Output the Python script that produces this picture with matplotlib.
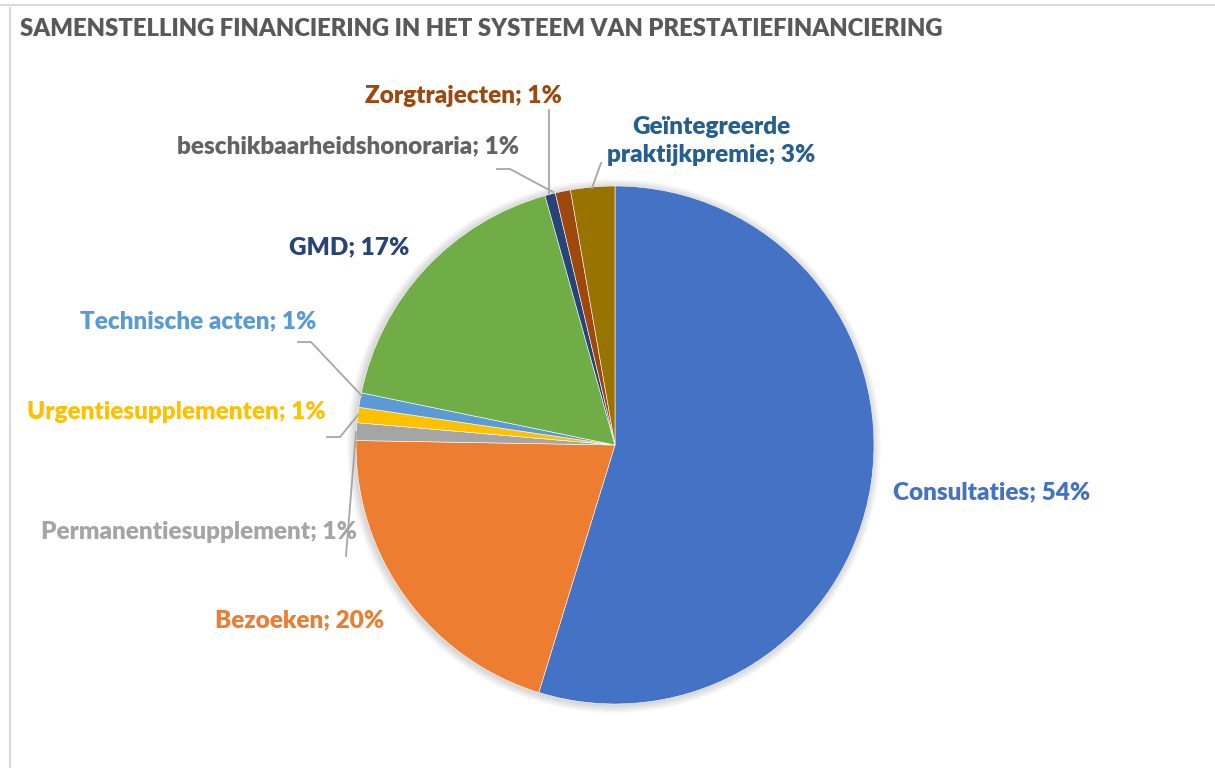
import matplotlib

matplotlib.use("Agg")
import matplotlib.pyplot as plt
import numpy as np

W, H = 1215, 768

# --- data -----------------------------------------------------------------
categories = [
  "Consultaties", "Bezoeken", "Permanentiesupplement", "Urgentiesupplementen",
  "Technische acten", "GMD", "beschikbaarheidshonoraria", "Zorgtrajecten",
  "Geïntegreerde\npraktijkpremie",
]
shares = [54.7, 20.5, 1.1, 0.95, 0.9, 17.4, 0.65, 0.95, 2.75]
pct_labels = ["54%", "20%", "1%", "1%", "1%", "17%", "1%", "1%", "3%"]

slice_colors = ["#4472C4", "#ED7D31", "#A5A5A5", "#FFC000", "#5B9BD5",
                "#70AD47", "#264478", "#9E480E", "#997300"]
label_colors = ["#4472C4", "#ED7D31", "#A5A5A5", "#FFC000", "#5B9BD5",
                "#264478", "#636363", "#9E480E", "#255E91"]

# --- layout (pixel coords, origin top-left) -------------------------------
CX, CY, R = 615, 445, 259
label_pos = [
  (893, 499, "left", "baseline"),
  (300, 627, "center", "baseline"),
  (199, 539, "center", "baseline"),
  (176, 419, "center", "baseline"),
  (198, 328, "center", "baseline"),
  (349, 254, "center", "baseline"),
  (348, 153, "center", "baseline"),
  (463, 103, "center", "baseline"),
  (711, 141, "center", "center"),
]
leaders = {
  2: [(346, 556), (356, 432)],
  3: [(327, 437), (340, 437), (358, 415)],
  4: [(298, 342), (311, 342), (362, 396)],
  6: [(497, 169), (510, 169), (553, 192)],
  7: [(549, 110), (549, 193)],
  8: [(601, 163), (592, 188)],
}

FONT = ["Lato", "DejaVu Sans"]


def px(x, y):
  return x, H - y


fig = plt.figure(figsize=(W / 100, H / 100), dpi=100)
ax = fig.add_axes([0, 0, 1, 1])

# chart frame
ax.plot([0, W], [H - 5, H - 5], color="#D9D9D9", lw=1.5)
ax.plot([10, 10], [H - 8, 0], color="#D9D9D9", lw=1.5)

# soft shadow behind the pie
for k in range(1, 9):
  ax.add_patch(plt.Circle(px(CX - 1, CY + 1), R + k, color="black",
                          alpha=0.018, lw=0, zorder=1))

ax.pie(
  shares, colors=slice_colors, startangle=90, counterclock=False,
  center=px(CX, CY), radius=R, frame=True,
  wedgeprops={"linewidth": 0.4, "edgecolor": "white", "zorder": 2},
)
ax.set_xlim(0, W)
ax.set_ylim(0, H)
ax.set_aspect("equal")
ax.axis("off")

for i, (cat, pct) in enumerate(zip(categories, pct_labels)):
  x, y, ha, va = label_pos[i]
  ax.text(*px(x, y), f"{cat}; {pct}", color=label_colors[i], ha=ha, va=va,
          fontsize=17.5, fontweight="heavy", family=FONT, linespacing=1.35,
          zorder=5)

for i, pts in leaders.items():
  xs, ys = zip(*[px(a, b) for a, b in pts])
  ax.plot(xs, ys, color="#A6A6A6", lw=1.3, zorder=4)

ax.text(*px(20, 36), "SAMENSTELLING FINANCIERING IN HET SYSTEEM VAN PRESTATIEFINANCIERING",
        color="#595959", fontsize=17.2, fontweight="heavy",
        family=FONT, ha="left", va="baseline")

fig.savefig("out.png", dpi=100)
